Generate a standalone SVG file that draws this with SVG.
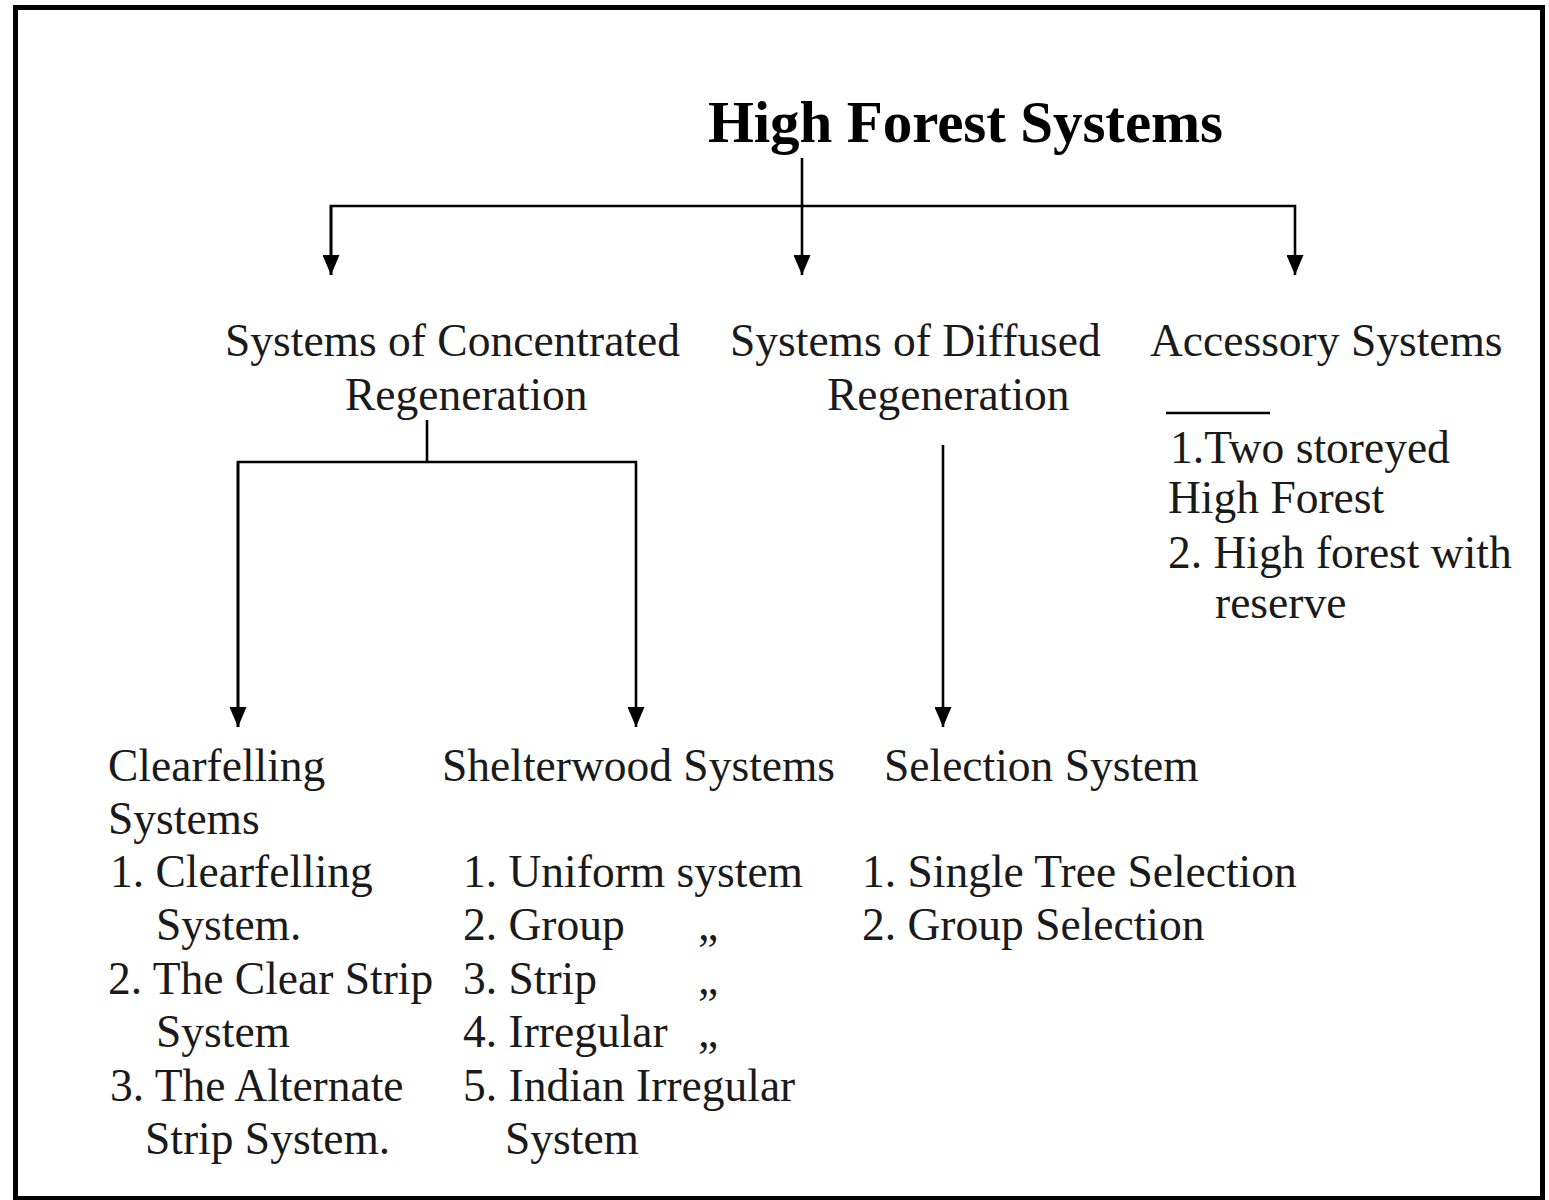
<svg xmlns="http://www.w3.org/2000/svg" width="1549" height="1200" viewBox="0 0 1549 1200">
  <style>
    .t { font-family: "Liberation Serif", "Times New Roman", serif; font-size: 45.5px; fill: #1a1a1a; }
    .title { font-family: "Liberation Serif", "Times New Roman", serif; font-size: 59px; font-weight: bold; fill: #000; }
    .ln { stroke: #000; stroke-width: 2.6; fill: none; }
  </style>
  <defs>
    <marker id="arr" markerUnits="userSpaceOnUse" markerWidth="20" markerHeight="17" viewBox="0 0 20 17" refX="20" refY="8.5" orient="auto">
      <path d="M0,0 L20,8.5 L0,17 z" fill="#000"/>
    </marker>
  </defs>

  <rect width="1549" height="1200" fill="#fff"/>
  <!-- outer frame -->
  <rect x="15.5" y="7.5" width="1527" height="1191" fill="none" stroke="#000" stroke-width="5"/>

  <!-- connectors -->
  <g id="connectors">
    <path class="ln" d="M802,158 V275" marker-end="url(#arr)"/>
    <path class="ln" d="M331,275 V206 H1295 V275" marker-end="url(#arr)"/>
    <path class="ln" d="M331,206 V275" marker-end="url(#arr)"/>
    <path class="ln" d="M427,420 V462"/>
    <path class="ln" d="M238,727 V462 H636 V727" marker-end="url(#arr)"/>
    <path class="ln" d="M238,462 V727" marker-end="url(#arr)"/>
    <path class="ln" d="M943,445 V727" marker-end="url(#arr)"/>
    <path class="ln" d="M1166,413 H1270"/>
  </g>

  <g id="root">
    <text class="title" x="708" y="142" textLength="515" lengthAdjust="spacing">High Forest Systems</text>
  </g>

  <g id="concentrated">
    <text class="t" x="225" y="356">Systems of Concentrated</text>
    <text class="t" x="345" y="410">Regeneration</text>
  </g>

  <g id="diffused">
    <text class="t" x="730" y="356">Systems of Diffused</text>
    <text class="t" x="827" y="410">Regeneration</text>
  </g>

  <g id="accessory">
    <text class="t" x="1150" y="356">Accessory Systems</text>
    <text class="t" x="1170" y="463">1.Two storeyed</text>
    <text class="t" x="1168" y="513">High Forest</text>
    <text class="t" x="1168" y="568">2. High forest with</text>
    <text class="t" x="1215" y="618">reserve</text>
  </g>

  <g id="clearfelling">
    <text class="t" x="108" y="781">Clearfelling</text>
    <text class="t" x="108" y="834">Systems</text>
    <text class="t" x="110" y="887">1. Clearfelling</text>
    <text class="t" x="156" y="940">System.</text>
    <text class="t" x="108" y="994">2. The Clear Strip</text>
    <text class="t" x="156" y="1047">System</text>
    <text class="t" x="110" y="1101">3. The Alternate</text>
    <text class="t" x="145" y="1154">Strip System.</text>
  </g>

  <g id="shelterwood">
    <text class="t" x="442" y="781">Shelterwood Systems</text>
    <text class="t" x="463" y="887">1. Uniform system</text>
    <text class="t" x="463" y="940">2. Group</text>
    <text class="t" x="698" y="940">„</text>
    <text class="t" x="463" y="994">3. Strip</text>
    <text class="t" x="698" y="994">„</text>
    <text class="t" x="463" y="1047">4. Irregular</text>
    <text class="t" x="698" y="1047">„</text>
    <text class="t" x="463" y="1101">5. Indian Irregular</text>
    <text class="t" x="505" y="1154">System</text>
  </g>

  <g id="selection">
    <text class="t" x="884" y="781">Selection System</text>
    <text class="t" x="862" y="887">1. Single Tree Selection</text>
    <text class="t" x="862" y="940">2. Group Selection</text>
  </g>
</svg>
